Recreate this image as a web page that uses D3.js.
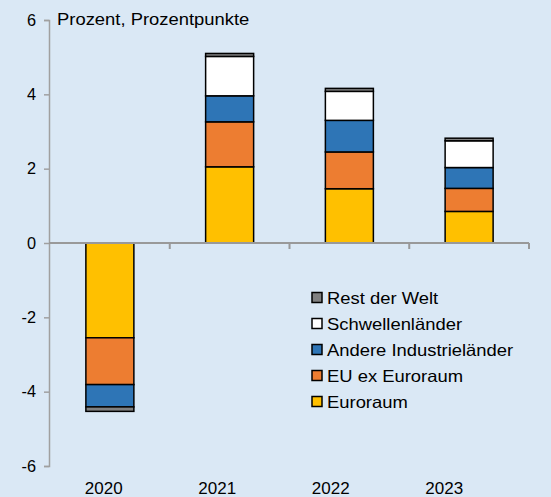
<!DOCTYPE html>
<html>
<head>
<meta charset="utf-8">
<script src="https://d3js.org/d3.v7.min.js"></script>
<style>
  body { margin: 0; padding: 0; background: #dae8f5; }
  svg { display: block; font-family: "Liberation Sans", Arial, sans-serif; }
</style>
</head>
<body>
<div id="chart"></div>
<script>
// data
var years = ["2020", "2021", "2022", "2023"]
var series = ["Euroraum", "EU ex Euroraum", "Andere Industrieländer", "Schwellenländer", "Rest der Welt"]
var euroraum = [-2.55, 2.05, 1.46, 0.85]
var euEx = [-1.26, 1.21, 0.99, 0.62]
var andere = [-0.60, 0.70, 0.85, 0.56]
var schwellen = [0.0, 1.06, 0.78, 0.72]
var rest = [-0.12, 0.08, 0.08, 0.07]
var yTicks = [-6, -4, -2, 0, 2, 4, 6]
var colors = ["#ffc000", "#ed7d31", "#2e75b6", "#ffffff", "#808080"]

var width = 551, height = 497
var stretch = 1.13   // the original text is a bit wider than plain Arial

var rows = years.map(function (y, i) {
  return { year: y, "Euroraum": euroraum[i], "EU ex Euroraum": euEx[i],
    "Andere Industrieländer": andere[i], "Schwellenländer": schwellen[i], "Rest der Welt": rest[i] }
})

var svg = d3.select("#chart").append("svg")
  .attr("width", width).attr("height", height)

svg.append("rect").attr("width", width).attr("height", height).attr("fill", "#dae8f5")

var x = d3.scaleBand().domain(years).range([50, 529])
// the category labels sit a little left of the bars in the original
var xLab = d3.scaleBand().domain(years).range([47, 501])
var y = d3.scaleLinear().domain([-6, 6]).range([466, 20])
var barW = 48

var stacked = d3.stack().keys(series).offset(d3.stackOffsetDiverging)(rows)

// y axis
var yAxis = svg.append("g")
  .attr("transform", "translate(49,0)")
  .call(d3.axisLeft(y).tickValues(yTicks).tickSize(5).tickPadding(8)
    .tickFormat(function (d) { return String(d) }))
yAxis.select(".domain").attr("stroke", "#a0a0a0").attr("stroke-width", 1.5)
yAxis.selectAll(".tick line").attr("stroke", "#a0a0a0").attr("stroke-width", 1.5)
yAxis.selectAll(".tick text").attr("font-size", 16.3).attr("fill", "#000")
  .attr("font-family", "Liberation Sans, Arial, sans-serif")

// bars
svg.append("g").selectAll("g")
  .data(stacked)
  .join("g")
  .attr("fill", function (d, i) { return colors[i] })
  .selectAll("rect")
  .data(function (d) { return d })
  .join("rect")
  .attr("x", function (d) { return x(d.data.year) + x.bandwidth() / 2 - barW / 2 })
  .attr("width", barW)
  .attr("y", function (d) { return y(Math.max(d[0], d[1])) })
  .attr("height", function (d) { return Math.abs(y(d[0]) - y(d[1])) })
  .attr("stroke", "#000")
  .attr("stroke-width", 1.5)

// zero line with category tick marks
var zero = svg.append("g").attr("transform", "translate(0," + y(0) + ")")
zero.append("line").attr("x1", 49).attr("x2", 529).attr("stroke", "#999").attr("stroke-width", 2)
zero.selectAll("line.tk")
  .data(years)
  .join("line")
  .attr("class", "tk")
  .attr("x1", function (d) { return x(d) + x.bandwidth() })
  .attr("x2", function (d) { return x(d) + x.bandwidth() })
  .attr("y1", 0).attr("y2", 6)
  .attr("stroke", "#999").attr("stroke-width", 2)

// category labels
var xAxis = svg.append("g")
  .attr("transform", "translate(0,482)")
  .call(d3.axisBottom(xLab).tickSize(0).tickPadding(0))
xAxis.select(".domain").remove()
xAxis.selectAll(".tick text").attr("font-size", 17).attr("fill", "#000")
  .attr("font-family", "Liberation Sans, Arial, sans-serif")

// unit label
svg.append("text")
  .attr("transform", "translate(57,25) scale(" + stretch + ",1)")
  .attr("font-size", 16.3).text("Prozent, Prozentpunkte")

// legend, top entry first
var legend = svg.append("g").selectAll("g")
  .data(series.slice().reverse())
  .join("g")
  .attr("transform", function (d, i) { return "translate(312," + (298 + i * 26) + ")" })
legend.append("rect")
  .attr("x", 0).attr("y", -5.5).attr("width", 10).attr("height", 10)
  .attr("fill", function (d) { return colors[series.indexOf(d)] })
  .attr("stroke", "#000").attr("stroke-width", 1.5)
legend.append("text")
  .attr("transform", "translate(15,6) scale(" + stretch + ",1)")
  .attr("font-size", 16.3)
  .text(function (d) { return d })
</script>
</body>
</html>
